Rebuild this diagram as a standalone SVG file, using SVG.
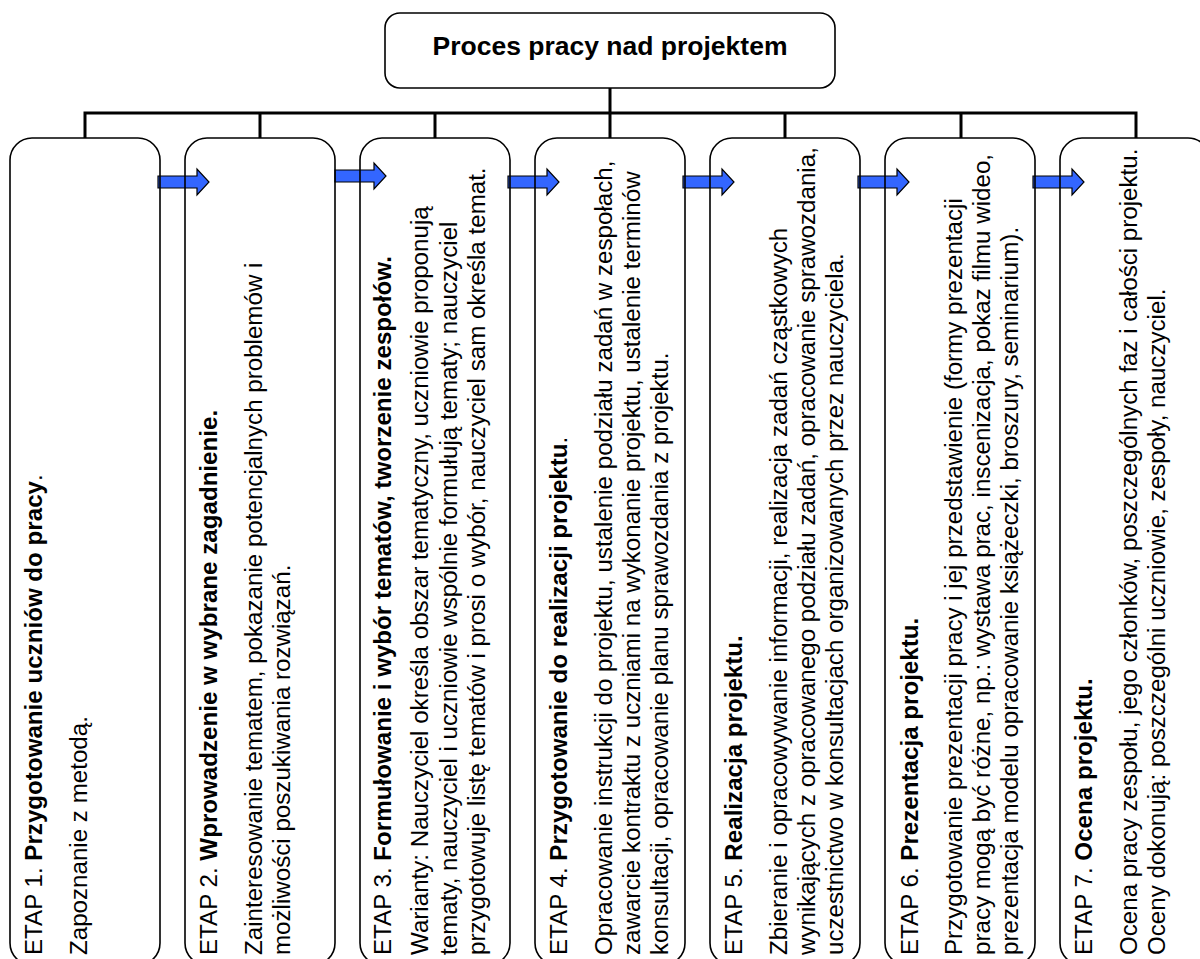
<svg xmlns="http://www.w3.org/2000/svg" width="1200" height="959" viewBox="0 0 1200 959">
<defs>
<style>
.box{fill:none;stroke:#000;stroke-width:1.6}
.top{fill:#fff;stroke:#000;stroke-width:1.6}
.con{fill:none;stroke:#000;stroke-width:3}
.arr{fill:#3366FF;stroke:#000;stroke-width:1.2;stroke-linejoin:miter}
.t{font-family:"Liberation Sans",Arial,sans-serif;font-size:24.15px;fill:#000}
.b{font-weight:bold}
.title{font-family:"Liberation Sans",Arial,sans-serif;font-size:26.5px;font-weight:bold;fill:#000}
</style>
</defs>
<rect width="1200" height="959" fill="#fff"/>
<g id="connectors">
<path class="con" d="M610,88 V113 M85,138 V113 H1136 V138 M260,113 V138 M435,113 V138 M610,113 V138 M785,113 V138 M961,113 V138"/>
</g>
<g id="arrows">
<path class="arr" d="M158,176 H197 V169 L209,182 L197,195 V188 H158 Z"/>
<path class="arr" d="M335,170 H374 V163 L386,176 L374,189 V182 H335 Z"/>
<path class="arr" d="M508,176 H547 V169 L559,182 L547,195 V188 H508 Z"/>
<path class="arr" d="M683,176 H722 V169 L734,182 L722,195 V188 H683 Z"/>
<path class="arr" d="M858,176 H897 V169 L909,182 L897,195 V188 H858 Z"/>
<path class="arr" d="M1033,176 H1072 V169 L1084,182 L1072,195 V188 H1033 Z"/>
</g>
<g id="root">
<rect class="top" x="385" y="13" width="450" height="75" rx="15"/>
<text class="title" x="610" y="55" text-anchor="middle">Proces pracy nad projektem</text>
</g>
<g id="etap1">
<rect class="box" x="10" y="138" width="150" height="827" rx="22"/>
<text class="t" transform="translate(42,955) rotate(-90)">ETAP 1. <tspan class="b">Przygotowanie uczniów do pracy</tspan>.</text>
<text class="t" transform="translate(87,955) rotate(-90)">Zapoznanie z metodą.</text>
</g>
<g id="etap2">
<rect class="box" x="185" y="138" width="150" height="827" rx="22"/>
<text class="t" transform="translate(217,955) rotate(-90)">ETAP 2. <tspan class="b">Wprowadzenie w wybrane zagadnienie.</tspan></text>
<text class="t" transform="translate(262,955) rotate(-90)">Zainteresowanie tematem, pokazanie potencjalnych problemów i</text>
<text class="t" transform="translate(290,955) rotate(-90)">możliwości poszukiwania rozwiązań.</text>
</g>
<g id="etap3">
<rect class="box" x="360" y="138" width="150" height="827" rx="22"/>
<text class="t" transform="translate(391,955) rotate(-90)">ETAP 3. <tspan class="b">Formułowanie i wybór tematów, tworzenie zespołów.</tspan></text>
<text class="t" transform="translate(428,955) rotate(-90)">Warianty: Nauczyciel określa obszar tematyczny, uczniowie proponują</text>
<text class="t" transform="translate(457,955) rotate(-90)">tematy, nauczyciel i uczniowie wspólnie formułują tematy; nauczyciel</text>
<text class="t" transform="translate(485,955) rotate(-90)">przygotowuje listę tematów i prosi o wybór, nauczyciel sam określa temat.</text>
</g>
<g id="etap4">
<rect class="box" x="535" y="138" width="150" height="827" rx="22"/>
<text class="t" transform="translate(567,955) rotate(-90)">ETAP 4. <tspan class="b">Przygotowanie do realizacji projektu</tspan>.</text>
<text class="t" transform="translate(612,955) rotate(-90)">Opracowanie instrukcji do projektu, ustalenie podziału zadań w zespołach,</text>
<text class="t" transform="translate(640,955) rotate(-90)">zawarcie kontraktu z uczniami na wykonanie projektu, ustalenie terminów</text>
<text class="t" transform="translate(668,955) rotate(-90)">konsultacji, opracowanie planu sprawozdania z projektu.</text>
</g>
<g id="etap5">
<rect class="box" x="710" y="138" width="150" height="827" rx="22"/>
<text class="t" transform="translate(742,955) rotate(-90)">ETAP 5. <tspan class="b">Realizacja projektu.</tspan></text>
<text class="t" transform="translate(787,955) rotate(-90)">Zbieranie i opracowywanie informacji, realizacja zadań cząstkowych</text>
<text class="t" transform="translate(815,955) rotate(-90)">wynikających z opracowanego podziału zadań, opracowanie sprawozdania,</text>
<text class="t" transform="translate(843,955) rotate(-90)">uczestnictwo w konsultacjach organizowanych przez nauczyciela.</text>
</g>
<g id="etap6">
<rect class="box" x="885" y="138" width="150" height="827" rx="22"/>
<text class="t" transform="translate(918,955) rotate(-90)">ETAP 6. <tspan class="b">Prezentacja projektu.</tspan></text>
<text class="t" transform="translate(962,955) rotate(-90)">Przygotowanie prezentacji pracy i jej przedstawienie (formy prezentacji</text>
<text class="t" transform="translate(990,955) rotate(-90)">pracy mogą być różne, np.: wystawa prac, inscenizacja, pokaz filmu wideo,</text>
<text class="t" transform="translate(1018,955) rotate(-90)">prezentacja modelu opracowanie książeczki, broszury, seminarium).</text>
</g>
<g id="etap7">
<rect class="box" x="1060" y="138" width="150" height="827" rx="22"/>
<text class="t" transform="translate(1092,955) rotate(-90)">ETAP 7. <tspan class="b">Ocena projektu.</tspan></text>
<text class="t" transform="translate(1137,955) rotate(-90)">Ocena pracy zespołu, jego członków, poszczególnych faz i całości projektu.</text>
<text class="t" transform="translate(1165,955) rotate(-90)">Oceny dokonują: poszczególni uczniowie, zespoły, nauczyciel.</text>
</g>
</svg>
